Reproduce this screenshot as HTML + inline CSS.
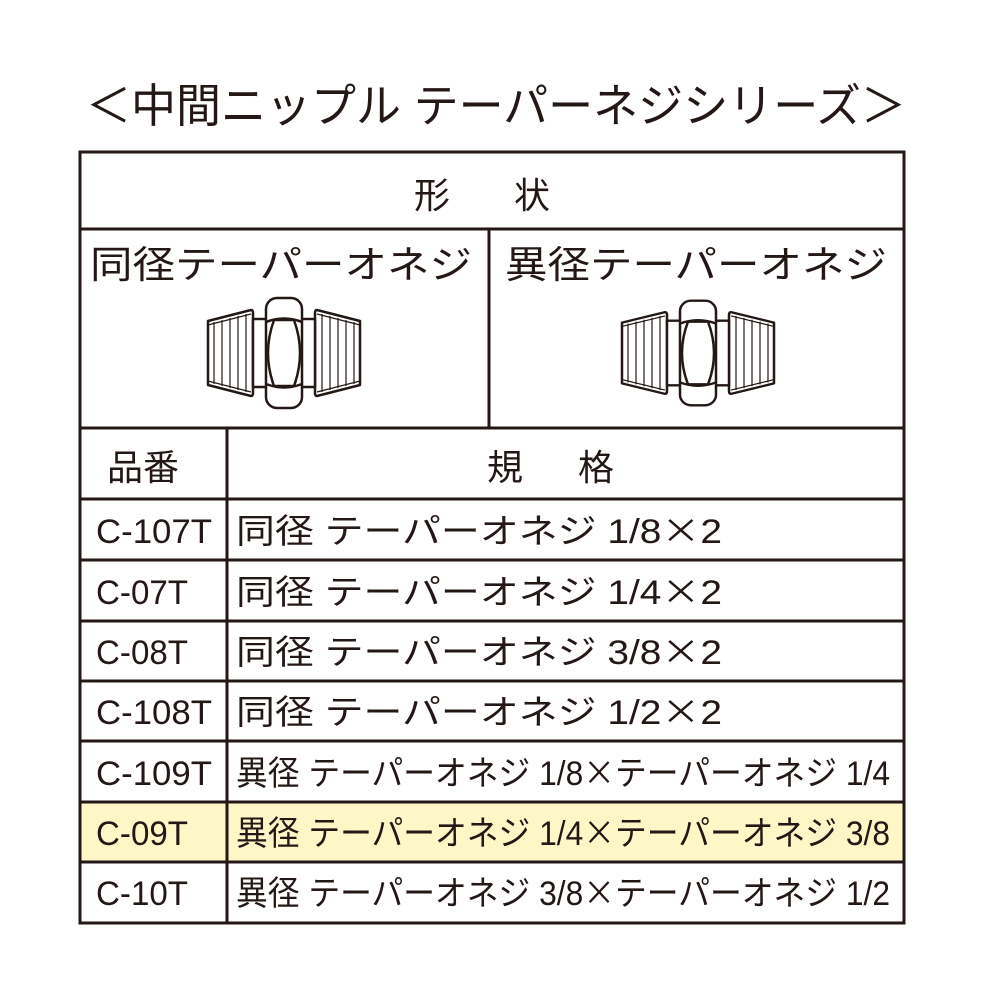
<!DOCTYPE html>
<html><head><meta charset="utf-8"><style>
html,body{margin:0;padding:0;background:#fff;}
svg{display:block}
text{font-family:"Liberation Sans","Noto Sans CJK JP",sans-serif;fill:#231815;}
.x{font-family:"Noto Sans CJK JP",sans-serif;}
</style></head><body>
<svg width="1000" height="1000" viewBox="0 0 1000 1000">
<defs>
<g id="fit" fill="#fff" stroke="#231815" stroke-width="2.5" stroke-linejoin="round">
  <path d="M-76,-32 L-33,-43 Q-31,-43 -31,-40 L-31,40 Q-31,43 -33,43 L-76,32 Z"/>
  <g stroke-width="1.2">
    <line x1="-70" y1="-31" x2="-70" y2="31"/><line x1="-62" y1="-33" x2="-62" y2="33"/>
    <line x1="-54" y1="-35" x2="-54" y2="35"/><line x1="-46" y1="-37" x2="-46" y2="37"/>
    <line x1="-38" y1="-39" x2="-38" y2="39"/>
    <line x1="-76" y1="-28" x2="-33" y2="-39"/><line x1="-76" y1="28" x2="-33" y2="39"/>
  </g>
  <path d="M76,-32 L33,-43 Q31,-43 31,-40 L31,40 Q31,43 33,43 L76,32 Z"/>
  <g stroke-width="1.2">
    <line x1="70" y1="-31" x2="70" y2="31"/><line x1="62" y1="-33" x2="62" y2="33"/>
    <line x1="54" y1="-35" x2="54" y2="35"/><line x1="46" y1="-37" x2="46" y2="37"/>
    <line x1="38" y1="-39" x2="38" y2="39"/>
    <line x1="76" y1="-28" x2="33" y2="-39"/><line x1="76" y1="28" x2="33" y2="39"/>
  </g>
  <rect x="-31" y="-34" width="14" height="68"/>
  <rect x="17" y="-34" width="14" height="68"/>
  <rect x="-18" y="-55" width="36" height="110" rx="11"/>
  <path d="M-18,-31 Q0,-38 18,-31" fill="none"/>
  <path d="M-18,31 Q0,38 18,31" fill="none"/>
  <path d="M-10,-33 Q-22,0 -10,33 L10,33 Q22,0 10,-33 Z" fill="none"/>
</g>
</defs>
<text x="86" y="122" font-size="46" textLength="820" lengthAdjust="spacingAndGlyphs">＜中間ニップル テーパーネジシリーズ＞</text>
<rect x="80" y="802" width="824" height="60" fill="#fdf7c8"/>
<g stroke="#231815" stroke-width="3" fill="none">
  <rect x="80" y="152" width="824" height="771"/>
  <line x1="80" y1="229" x2="904" y2="229"/>
  <line x1="489" y1="229" x2="489" y2="428"/>
  <line x1="80" y1="428" x2="904" y2="428"/>
  <line x1="227" y1="428" x2="227" y2="923"/>
  <line x1="80" y1="499" x2="904" y2="499"/>
  <line x1="80" y1="560" x2="904" y2="560"/>
  <line x1="80" y1="621" x2="904" y2="621"/>
  <line x1="80" y1="681" x2="904" y2="681"/>
  <line x1="80" y1="741" x2="904" y2="741"/>
  <line x1="80" y1="802" x2="904" y2="802"/>
  <line x1="80" y1="862" x2="904" y2="862"/>
</g>
<text x="414" y="208" font-size="36">形</text>
<text x="514" y="208" font-size="36">状</text>
<text x="90" y="278" font-size="38" textLength="382" lengthAdjust="spacingAndGlyphs">同径テーパーオネジ</text>
<text x="505" y="278" font-size="38" textLength="382" lengthAdjust="spacingAndGlyphs">異径テーパーオネジ</text>
<use href="#fit" x="284" y="353"/>
<g transform="translate(698,353)"><use href="#fit" transform="scale(1,0.95)"/></g>
<text x="107" y="480" font-size="36">品番</text>
<text x="487" y="480" font-size="36">規</text>
<text x="578" y="480" font-size="36">格</text>
<g font-size="34">
<text x="96" y="543" textLength="116" lengthAdjust="spacingAndGlyphs">C-107T</text>
<text x="96" y="604" textLength="92" lengthAdjust="spacingAndGlyphs">C-07T</text>
<text x="96" y="664" textLength="92" lengthAdjust="spacingAndGlyphs">C-08T</text>
<text x="96" y="724" textLength="116" lengthAdjust="spacingAndGlyphs">C-108T</text>
<text x="96" y="785" textLength="116" lengthAdjust="spacingAndGlyphs">C-109T</text>
<text x="96" y="845" textLength="92" lengthAdjust="spacingAndGlyphs">C-09T</text>
<text x="96" y="905" textLength="92" lengthAdjust="spacingAndGlyphs">C-10T</text>
<text x="236" y="543" textLength="486" lengthAdjust="spacingAndGlyphs">同径 テーパーオネジ 1/8<tspan class="x">×</tspan>2</text>
<text x="236" y="604" textLength="486" lengthAdjust="spacingAndGlyphs">同径 テーパーオネジ 1/4<tspan class="x">×</tspan>2</text>
<text x="236" y="664" textLength="486" lengthAdjust="spacingAndGlyphs">同径 テーパーオネジ 3/8<tspan class="x">×</tspan>2</text>
<text x="236" y="724" textLength="486" lengthAdjust="spacingAndGlyphs">同径 テーパーオネジ 1/2<tspan class="x">×</tspan>2</text>
<text x="236" y="785" textLength="654" lengthAdjust="spacingAndGlyphs">異径 テーパーオネジ 1/8<tspan class="x">×</tspan>テーパーオネジ 1/4</text>
<text x="236" y="845" textLength="654" lengthAdjust="spacingAndGlyphs">異径 テーパーオネジ 1/4<tspan class="x">×</tspan>テーパーオネジ 3/8</text>
<text x="236" y="905" textLength="654" lengthAdjust="spacingAndGlyphs">異径 テーパーオネジ 3/8<tspan class="x">×</tspan>テーパーオネジ 1/2</text>
</g>
</svg>
</body></html>
